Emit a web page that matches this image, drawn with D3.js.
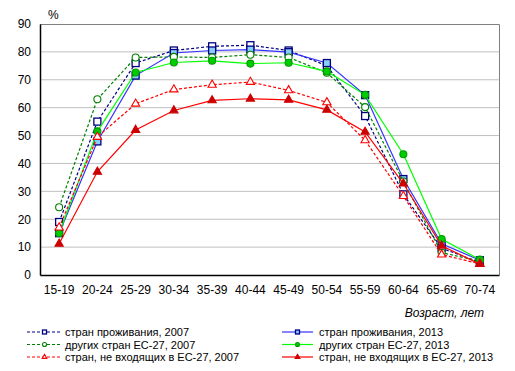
<!DOCTYPE html>
<html><head><meta charset="utf-8">
<script src="https://cdn.jsdelivr.net/npm/d3@7"></script>
<style>body{margin:0;background:#fff}svg{display:block;font-family:Arial,"Liberation Sans",sans-serif}</style>
</head><body><svg id="c" width="515" height="371"></svg>
<script>
const categories = ["15-19","20-24","25-29","30-34","35-39","40-44","45-49","50-54","55-59","60-64","65-69","70-74"];
const yTicks = [0,10,20,30,40,50,60,70,80,90];
const residence2007 = [19,55,76,80.5,82,82.4,80.5,75,57,28.9,9.6,4.5];
const residence2013 = [15,47.9,71.5,79.6,80.5,80.8,79.9,76,64.5,34.4,11.2,5.3];
const otherEU2007 = [24.3,63,78,78.2,78,79,78,72.5,60.2,33.5,8,5];
const otherEU2013 = [15,51.5,72.6,76.2,76.8,75.8,76.1,73,64.6,43.3,12.9,5.5];
const nonEU2007 = [17,49.5,61.4,66.5,68.2,69.2,66.2,61.9,48.3,28.3,7.3,4];
const nonEU2013 = [11.2,37,52,59,62.6,63.2,62.8,59.2,51.3,32.8,10.5,3.9];
const seriesNames = ["стран проживания, 2007","стран проживания, 2013","других стран ЕС-27,  2007","других стран ЕС-27,  2013","стран, не входящих в ЕС-27,  2007","стран, не входящих в ЕС-27,  2013"];

const series = [
 {name:seriesNames[0], values:residence2007, line:"#000080", dash:"3,2", shape:"square", fill:"#fff", stroke:"#000080", col:0, row:0},
 {name:seriesNames[1], values:residence2013, line:"#3333ff", dash:null, shape:"square", fill:"#87cefa", stroke:"#000080", col:1, row:0},
 {name:seriesNames[2], values:otherEU2007, line:"#008000", dash:"3,2", shape:"circle", fill:"#fff", stroke:"#008000", col:0, row:1},
 {name:seriesNames[3], values:otherEU2013, line:"#00ff00", dash:null, shape:"circle", fill:"#00cc00", stroke:"#009900", col:1, row:1},
 {name:seriesNames[4], values:nonEU2007, line:"#ff0000", dash:"3,2", shape:"triangle", fill:"#fff", stroke:"#ff0000", col:0, row:2},
 {name:seriesNames[5], values:nonEU2013, line:"#ff0000", dash:null, shape:"triangle", fill:"#cc0000", stroke:"#cc0000", col:1, row:2}
];

const svg = d3.select("#c");
const m = {l:40, r:499, t:24, b:275};
const x = d3.scaleBand().domain(categories).range([m.l, m.r]);
const y = d3.scaleLinear().domain([0,90]).range([m.b, m.t]);
const cx = c => x(c) + x.bandwidth()/2;

svg.append("g").selectAll("line").data(yTicks.filter(t=>t>0 && t<90)).join("line")
  .attr("x1",m.l).attr("x2",m.r).attr("y1",d=>y(d)).attr("y2",d=>y(d))
  .attr("stroke","#c0c0c0").attr("stroke-width",1);
svg.append("path").attr("d",`M${m.l},${m.t+0.5}H${m.r+0.5}V${m.b}`).attr("fill","none").attr("stroke","#808080");

const yAxis = d3.axisLeft(y).tickValues(yTicks).tickSize(0).tickPadding(9);
const gy = svg.append("g").attr("transform",`translate(${m.l},0)`).call(yAxis);
gy.select(".domain").attr("stroke","#000").attr("stroke-width",1.5);
gy.selectAll("text").attr("font-size",12).attr("fill","#000");
const xAxis = d3.axisBottom(x).tickSize(0).tickPadding(10);
const gx = svg.append("g").attr("transform",`translate(0,${m.b})`).call(xAxis);
gx.select(".domain").attr("stroke","#000").attr("stroke-width",1.5);
gx.selectAll("text").attr("font-size",12).attr("fill","#000");

svg.append("text").attr("x",48).attr("y",19).attr("font-size",12).text("%");
svg.append("text").attr("x",484).attr("y",317).attr("text-anchor","end").attr("font-size",12).attr("font-style","italic").text("Возраст, лет");

function marker(g, shape, s, fill, stroke){
  if(shape==="square") return g.append("rect").attr("x",-s/2).attr("y",-s/2).attr("width",s).attr("height",s).attr("fill",fill).attr("stroke",stroke).attr("stroke-width",1.3);
  if(shape==="circle") return g.append("circle").attr("r",s/2).attr("fill",fill).attr("stroke",stroke).attr("stroke-width",1.1);
  return g.append("path").attr("d",d3.symbol(d3.symbolTriangle, s*s*0.6)()).attr("fill",fill).attr("stroke",stroke).attr("stroke-width",1.1);
}

const line = d3.line().x((d,i)=>cx(categories[i])).y(d=>y(d));
series.forEach(s=>{
  svg.append("path").attr("d",line(s.values)).attr("fill","none").attr("stroke",s.line).attr("stroke-width",1.2).attr("stroke-dasharray",s.dash);
  s.values.forEach((v,i)=>{
    const g = svg.append("g").attr("transform",`translate(${cx(categories[i])},${y(v)})`);
    marker(g, s.shape, 7, s.fill, s.stroke);
  });
});

const colX = [[27,62,65],[282,313,319]];
const rowY = [332,344.5,357];
series.forEach(s=>{
  const [x1,x2,tx] = colX[s.col];
  const yy = rowY[s.row];
  svg.append("line").attr("x1",x1).attr("x2",x2).attr("y1",yy).attr("y2",yy).attr("stroke",s.line).attr("stroke-width",1.2).attr("stroke-dasharray",s.dash);
  const g = svg.append("g").attr("transform",`translate(${(x1+x2)/2},${yy})`);
  marker(g, s.shape, 4, s.fill, s.stroke);
  svg.append("text").attr("x",tx).attr("y",yy+4).attr("font-size",11).text(s.name);
});
</script></body></html>
